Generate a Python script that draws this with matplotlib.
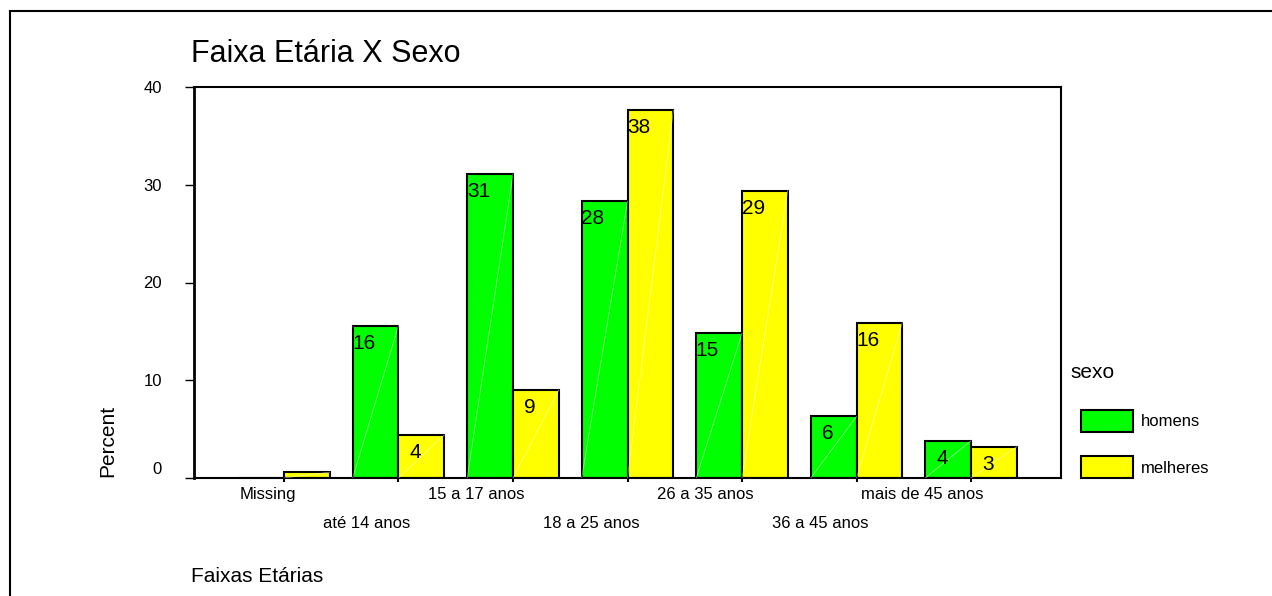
import numpy as np
import matplotlib
matplotlib.use('Agg')
import matplotlib.pyplot as plt
from matplotlib.lines import Line2D
from matplotlib.transforms import offset_copy

plt.rcParams['font.family'] = ['Liberation Sans', 'DejaVu Sans']

# Dados (percentuais)
faixas = ['Missing', 'até 14 anos', '15 a 17 anos', '18 a 25 anos',
          '26 a 35 anos', '36 a 45 anos', 'mais de 45 anos']
homens = [0.0, 15.6, 31.1, 28.3, 14.8, 6.3, 3.8]
mulheres = [0.6, 4.4, 9.0, 37.6, 29.4, 15.9, 3.2]
series_nomes = ['homens', 'melheres']
yticks = [0, 10, 20, 30, 40]

W, H = 1272, 596
fig = plt.figure(figsize=(W / 100, H / 100), dpi=100)
ax = fig.add_axes([194 / W, 1 - 478 / H, (1061 - 194) / W, (478 - 87) / H])

x = np.arange(len(faixas))
w = 0.4
b1 = ax.bar(x - w / 2, homens, w, color='#00ff00', edgecolor='black', linewidth=1.5)
b2 = ax.bar(x + w / 2, mulheres, w, color='#ffff00', edgecolor='black', linewidth=1.5)

# linhas diagonais fracas dentro das barras
for bars in (b1, b2):
    for r in bars:
        if r.get_height() > 0:
            ax.plot([r.get_x(), r.get_x() + r.get_width()], [0, r.get_height()],
                    color='white', lw=0.6, alpha=0.5, zorder=3)

# rótulos dos valores (sem o grupo Missing)
for bars in (b1, b2):
    for i, r in enumerate(bars):
        if i == 0:
            continue
        ax.annotate(f'{r.get_height():.0f}', xy=(r.get_x() + r.get_width() / 2, r.get_height()),
                    xytext=(0, -8), textcoords='offset pixels', ha='right', va='top',
                    fontsize=15, zorder=4)

ax.set_xlim(-0.786, len(faixas) - 1 + 0.786)
ax.set_ylim(0, 40)
ax.set_yticks(yticks)
ax.set_xticks(x)
ax.set_xticklabels([''] * len(x))
ax.tick_params(axis='y', length=6.5, width=1, pad=16.5, labelsize=12)
ax.tick_params(axis='x', length=3, width=1.5)
for s in ax.spines.values():
    s.set_linewidth(1.5)
ax.spines['left'].set_linewidth(2)

# o "0" aparece deslocado para cima no original
lab0 = ax.get_yticklabels()[0]
lab0.set_transform(offset_copy(lab0.get_transform(), fig=fig, x=0, y=10, units='dots'))

# rótulos das categorias em duas linhas alternadas
for i, nome in enumerate(faixas):
    dy = -21 if i % 2 == 0 else -50
    ax.annotate(nome, xy=(i, 0), xycoords=('data', 'axes fraction'),
                xytext=(12, dy), textcoords='offset pixels', ha='right', va='baseline',
                fontsize=12)

fig.text(191 / W, 1 - 62 / H, 'Faixa Etária X Sexo', fontsize=22, va='baseline', ha='left')
fig.text(191 / W, 1 - 582 / H, 'Faixas Etárias', fontsize=15, va='baseline', ha='left')
fig.text(113.5 / W, 1 - 477 / H, 'Percent', fontsize=15, rotation=90, rotation_mode='anchor',
         ha='left', va='baseline')
fig.text(1070 / W, 1 - 378 / H, 'sexo', fontsize=15, va='baseline', ha='left')

fig.legend(handles=[b1, b2], labels=series_nomes, loc='upper left',
           bbox_to_anchor=(1081 / W, 1 - 410 / H), bbox_transform=fig.transFigure,
           frameon=False, borderpad=0, borderaxespad=0, fontsize=12,
           handlelength=3.12, handleheight=1.65, handletextpad=0.45, labelspacing=1.47)

# moldura externa
fig.add_artist(Line2D([10 / W, 1], [1 - 11 / H, 1 - 11 / H], transform=fig.transFigure,
                      color='black', lw=1.5))
fig.add_artist(Line2D([10 / W, 10 / W], [0, 1 - 11 / H], transform=fig.transFigure,
                      color='black', lw=1.5))

fig.savefig('out.png', dpi=100)
